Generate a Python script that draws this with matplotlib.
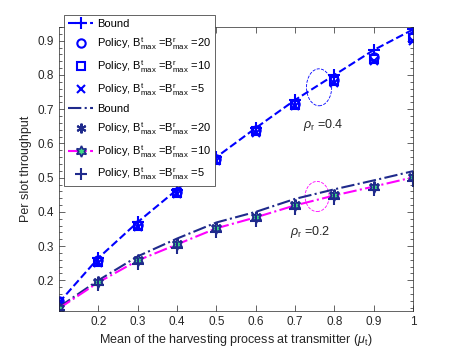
import matplotlib
matplotlib.use("Agg")
import matplotlib.pyplot as plt
from matplotlib.patches import Ellipse
from matplotlib.ticker import MultipleLocator

plt.rcParams['font.family'] = ['Liberation Sans', 'DejaVu Sans']
plt.rcParams['mathtext.fontset'] = 'custom'
plt.rcParams['mathtext.rm'] = 'Liberation Sans'
plt.rcParams['mathtext.it'] = 'Liberation Sans:italic'
plt.rcParams['mathtext.default'] = 'regular'

mu = [0.1, 0.2, 0.3, 0.4, 0.5, 0.6, 0.7, 0.8, 0.9, 1.0]

# rho_r = 0.4
bound_04 = [0.135, 0.265, 0.370, 0.465, 0.560, 0.645, 0.727, 0.800, 0.873, 0.933]
pol20_04 = [0.140, 0.258, 0.362, 0.458, 0.555, 0.638, 0.716, 0.786, 0.852, 0.914]
pol10_04 = [0.138, 0.255, 0.359, 0.455, 0.552, 0.635, 0.712, 0.781, 0.848, 0.907]
pol5_04 = [0.134, 0.252, 0.355, 0.451, 0.548, 0.631, 0.708, 0.776, 0.842, 0.900]

# rho_r = 0.2
bound_02 = [0.122, 0.200, 0.270, 0.322, 0.369, 0.400, 0.438, 0.466, 0.492, 0.519]
pol20_02 = [0.120, 0.197, 0.261, 0.308, 0.355, 0.387, 0.422, 0.451, 0.477, 0.504]
pol10_02 = [0.118, 0.194, 0.258, 0.305, 0.352, 0.384, 0.419, 0.448, 0.474, 0.501]
pol5_02 = [0.112, 0.185, 0.248, 0.295, 0.341, 0.373, 0.408, 0.437, 0.463, 0.490]

blue = '#0000ff'
navy = '#1f2a8c'
mag = '#ff00ff'
green = '#3ddc84'

fig = plt.figure(figsize=(4.57, 3.56), dpi=100)
ax = fig.add_axes([0.129, 0.126, 0.775, 0.798])

lab = lambda n: r'Policy, B$^{t}_{max}$ =B$^{r}_{max}$ =' + str(n)

ax.plot(mu, bound_04, '--', color=blue, lw=1.5, marker='+', ms=8, mew=1.5, label='Bound')
ax.plot(mu, pol20_04, ls='none', color=blue, marker='o', ms=6, mew=1.5, mfc='none', label=lab(20))
ax.plot(mu, pol10_04, ls='none', color=blue, marker='s', ms=5.5, mew=1.5, mfc='none', label=lab(10))
ax.plot(mu, pol5_04, ls='none', color=blue, marker='x', ms=5.5, mew=1.5, label=lab(5))

ax.plot(mu, bound_02, '-.', color=navy, lw=1.5, label='Bound')
ax.plot(mu, pol20_02, ls='none', color=navy, marker=(6, 2, 0), ms=7, mew=1.5, label=lab(20))
ax.plot(mu, pol10_02, '-.', color=mag, lw=1.5, marker=(6, 1, 0), ms=8, mew=1.2,
        mec=navy, mfc=green, label=lab(10))
ax.plot(mu, pol5_02, ls='none', color=navy, marker='+', ms=8, mew=1.5, label=lab(5))

ax.add_patch(Ellipse((0.761, 0.764), 0.064, 0.108, fill=False, ec=blue, ls='--', lw=0.6))
ax.add_patch(Ellipse((0.756, 0.445), 0.061, 0.088, fill=False, ec=mag, ls='--', lw=0.6))

ax.text(0.72, 0.655, r'$\mathit{\rho}_{r}$ =0.4', fontsize=9, color='#262626', va='center')
ax.text(0.688, 0.34, r'$\mathit{\rho}_{r}$ =0.2', fontsize=9, color='#262626', va='center')

ax.set_xlim(0.1, 1.0)
ax.set_ylim(0.11, 0.94)
ax.set_xticks([0.2, 0.3, 0.4, 0.5, 0.6, 0.7, 0.8, 0.9, 1.0])
ax.set_xticklabels(['0.2', '0.3', '0.4', '0.5', '0.6', '0.7', '0.8', '0.9', '1'])
ax.set_yticks([0.2, 0.3, 0.4, 0.5, 0.6, 0.7, 0.8, 0.9])
ax.yaxis.set_minor_locator(MultipleLocator(0.02))
ax.tick_params(direction='in', top=True, right=True, labelsize=8.5, colors='#262626',
               length=4, width=0.5)
ax.tick_params(which='minor', direction='in', right=True, length=2.5, width=0.5, colors='#262626')
for s in ax.spines.values():
    s.set_color('#262626')
    s.set_linewidth(0.5)

ax.set_xlabel(r'Mean of the harvesting process at transmitter ($\mathit{\mu}_{t}$)',
              fontsize=9, color='#262626', labelpad=3)
ax.set_ylabel('Per slot throughput', fontsize=9, color='#262626', labelpad=4)

leg = ax.legend(loc='upper left', bbox_to_anchor=(64 / 457, 1 - 15 / 356),
                bbox_transform=fig.transFigure, fontsize=8, fancybox=False,
                framealpha=1, edgecolor='#262626', borderaxespad=0, handlelength=2.3,
                handletextpad=0.3, labelspacing=0.55, borderpad=0.35, numpoints=1)
leg.get_frame().set_linewidth(0.5)
for t in leg.get_texts():
    t.set_color('#000000')

fig.savefig('out.png', dpi=100)
